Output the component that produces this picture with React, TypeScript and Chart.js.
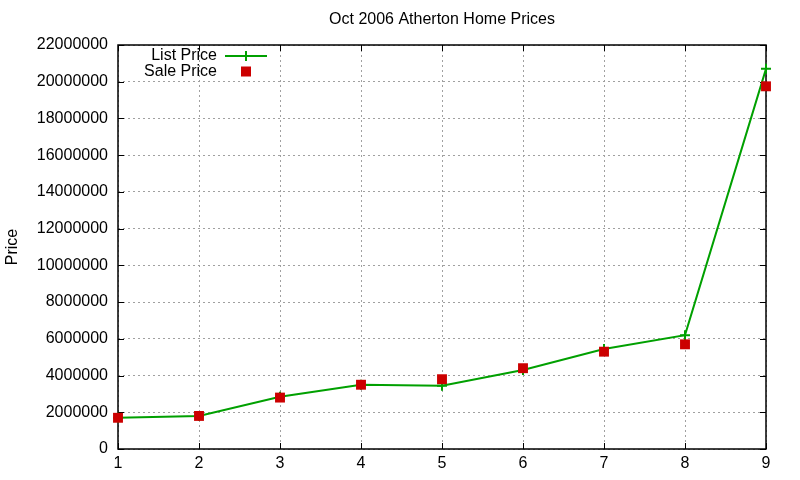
import { useEffect, useRef } from "react"
import { Chart, registerables } from "chart.js"
import type { Plugin } from "chart.js"

Chart.register(...registerables)

// Chart data
const chartTitle = "Oct 2006 Atherton Home Prices"
const yAxisLabel = "Price"
const homeIndex = [1, 2, 3, 4, 5, 6, 7, 8, 9]
const listPrices = [1700000, 1800000, 2850000, 3500000, 3450000, 4300000, 5450000, 6200000, 20700000]
const salePrices = [1700000, 1800000, 2800000, 3500000, 3800000, 4400000, 5300000, 5700000, 19750000]
const yMin = 0
const yMax = 22000000
const yStep = 2000000

const FONT = '"Liberation Sans", Arial, sans-serif'
const GREEN = "rgb(0, 160, 0)"
const RED = "rgb(204, 0, 0)"

// gnuplot-like frame: border box, inward mirrored ticks, title, y label and legend
const gnuplotDecor: Plugin<"line"> = {
  id: "gnuplotDecor",
  beforeDatasetsDraw(chart) {
    const { ctx, chartArea, scales } = chart
    const { left, right, top, bottom } = chartArea
    ctx.save()
    ctx.strokeStyle = "#000"
    ctx.lineWidth = 1
    ctx.beginPath()
    scales.x.ticks.forEach((t) => {
      const px = Math.round(scales.x.getPixelForValue(t.value)) + 0.5
      ctx.moveTo(px, bottom)
      ctx.lineTo(px, bottom - 6)
      ctx.moveTo(px, top)
      ctx.lineTo(px, top + 6)
    })
    scales.y.ticks.forEach((t) => {
      const py = Math.round(scales.y.getPixelForValue(t.value)) + 0.5
      ctx.moveTo(left, py)
      ctx.lineTo(left + 6, py)
      ctx.moveTo(right, py)
      ctx.lineTo(right - 6, py)
    })
    ctx.stroke()
    ctx.lineWidth = 1.5
    ctx.strokeRect(left, top, right - left, bottom - top)
    ctx.restore()
  },
  afterDraw(chart) {
    const { ctx, chartArea } = chart
    const { left, right, top, bottom } = chartArea
    ctx.save()
    ctx.fillStyle = "#000"
    ctx.font = `16px ${FONT}`

    // title
    ctx.textAlign = "center"
    ctx.textBaseline = "middle"
    ctx.fillText(chartTitle, (left + right) / 2, 20)

    // y axis label
    ctx.save()
    ctx.translate(13, (top + bottom) / 2)
    ctx.rotate(-Math.PI / 2)
    ctx.fillText(yAxisLabel, 0, 0)
    ctx.restore()

    // legend
    chart.data.datasets.forEach((ds: any, i) => {
      const y = top + 11 + i * 15.5
      ctx.fillStyle = "#000"
      ctx.textAlign = "right"
      ctx.textBaseline = "middle"
      ctx.fillText(ds.label, left + 99, y)
      const cx = left + 128
      if (ds.showLine !== false) {
        ctx.strokeStyle = ds.borderColor
        ctx.lineWidth = 2
        ctx.beginPath()
        ctx.moveTo(left + 107, y)
        ctx.lineTo(left + 149, y)
        ctx.moveTo(cx, y - 5)
        ctx.lineTo(cx, y + 5)
        ctx.stroke()
      } else {
        ctx.fillStyle = ds.backgroundColor
        ctx.fillRect(cx - 5, y - 5, 10, 10)
      }
    })
    ctx.restore()
  },
}

export default function App() {
  const chartRef = useRef<HTMLCanvasElement>(null)
  const chartInstance = useRef<Chart | null>(null)

  useEffect(() => {
    if (!chartRef.current) return
    if (chartInstance.current) chartInstance.current.destroy()
    const ctx = chartRef.current.getContext("2d")
    if (!ctx) return

    chartInstance.current = new Chart(ctx, {
      type: "line",
      data: {
        datasets: [
          {
            label: "List Price",
            data: homeIndex.map((x, i) => ({ x, y: listPrices[i] })),
            borderColor: GREEN,
            backgroundColor: GREEN,
            borderWidth: 2,
            pointStyle: "cross",
            pointRadius: 5,
            pointBorderWidth: 2,
            pointBorderColor: GREEN,
            tension: 0,
            clip: false,
            order: 1,
          },
          {
            label: "Sale Price",
            data: homeIndex.map((x, i) => ({ x, y: salePrices[i] })),
            showLine: false,
            borderColor: RED,
            backgroundColor: RED,
            pointStyle: "rect",
            pointRadius: 7,
            pointBorderWidth: 0,
            clip: false,
            order: 0,
          },
        ],
      },
      options: {
        animation: false,
        responsive: true,
        maintainAspectRatio: false,
        layout: { padding: { left: 0, right: 34, top: 45, bottom: 0 } },
        plugins: {
          legend: { display: false },
          title: { display: false },
          tooltip: { enabled: false },
        },
        scales: {
          x: {
            type: "linear",
            min: 1,
            max: 9,
            ticks: {
              stepSize: 1,
              padding: 5,
              color: "#000",
              font: { family: FONT, size: 16 },
              callback: (v) => String(v),
            },
            grid: { color: "rgb(160, 160, 160)", drawTicks: false, tickLength: 0 },
            border: { display: false, dash: [2, 3] },
            afterFit: (scale) => {
              scale.height = 31
            },
          },
          y: {
            type: "linear",
            min: yMin,
            max: yMax,
            ticks: {
              stepSize: yStep,
              padding: 10,
              color: "#000",
              font: { family: FONT, size: 16 },
              callback: (v) => String(v),
            },
            grid: { color: "rgb(160, 160, 160)", drawTicks: false, tickLength: 0 },
            border: { display: false, dash: [2, 3] },
            afterFit: (scale) => {
              scale.width = 118
            },
          },
        },
      },
      plugins: [gnuplotDecor],
    })

    return () => {
      if (chartInstance.current) {
        chartInstance.current.destroy()
        chartInstance.current = null
      }
    }
  }, [])

  return (
    <div style={{ position: "fixed", left: 0, top: 0, width: 800, height: 480, background: "#fff" }}>
      <canvas ref={chartRef} aria-label="Oct 2006 Atherton Home Prices"></canvas>
    </div>
  )
}
